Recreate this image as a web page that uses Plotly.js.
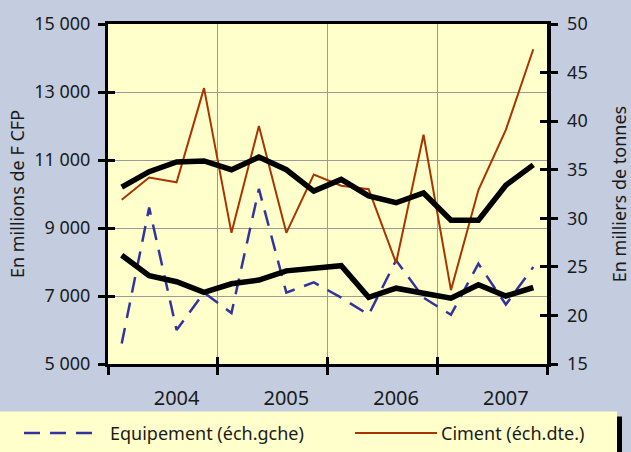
<!DOCTYPE html>
<html>
<head>
<meta charset="utf-8">
<script src="https://cdn.plot.ly/plotly-3.0.1.min.js"></script>
<style>html,body{margin:0;padding:0;background:#c3cddf;}#chart{width:631px;height:452px;}</style>
</head>
<body>
<div id="chart"></div>
<script>
const quarters = ['2004T1','2004T2','2004T3','2004T4','2005T1','2005T2','2005T3','2005T4',
                  '2006T1','2006T2','2006T3','2006T4','2007T1','2007T2','2007T3','2007T4'];
const equipement = [5600,9600,6000,7100,6500,10150,7100,7400,6950,6450,8050,6950,6450,7950,6750,7850];
const equipementTrend = [8200,7600,7420,7110,7360,7470,7740,7800,7890,6960,7230,7080,6935,7330,7000,7250];
const ciment = [31.9,34.2,33.7,43.4,28.5,39.5,28.5,34.5,33.35,33.0,25.4,38.6,22.6,32.9,39.1,47.4];
const cimentTrend = [33.2,34.8,35.8,35.9,35.0,36.3,35.0,32.8,34.0,32.3,31.6,32.6,29.8,29.8,33.4,35.5];
const yearLabels = ['2004','2005','2006','2007'];
const leftTickVals = [5000,7000,9000,11000,13000,15000];
const leftTickText = ['5 000','7 000','9 000','11 000','13 000','15 000'];
const rightTickVals = [15,20,25,30,35,40,45,50];
const rightTickText = ['15','20','25','30','35','40','45','50'];
const seriesNames = ['Equipement (éch.gche)','Ciment (éch.dte.)'];

const xIdx = quarters.map((q,i)=>i);
const yearPos = yearLabels.map((y,i)=>i*4+2);
const boundaries = [-0.5,3.5,7.5,11.5,15.5];

const FONT = 'Noto Sans, Open Sans, sans-serif';
const INK = '#1a1a1a';
const BLUE = '#33339f';
const RUST = '#a83500';
const YEL = '#ffffcc';

const L=108, R=84, T=24, B=88, W=631, H=452;
const pw = W-L-R, ph = H-T-B;
const px = v => (v-L)/pw;
const py = v => (H-B-v)/ph;

const traces = [
  {x:xIdx, y:equipement, name:seriesNames[0], type:'scatter', mode:'lines', xaxis:'x', yaxis:'y',
   line:{color:BLUE, width:2.5, dash:'16px,10px'}, showlegend:false},
  {x:xIdx, y:equipementTrend, type:'scatter', mode:'lines', xaxis:'x', yaxis:'y',
   line:{color:'#000', width:5.5}, showlegend:false},
  {x:xIdx, y:ciment, name:seriesNames[1], type:'scatter', mode:'lines', xaxis:'x', yaxis:'y2',
   line:{color:RUST, width:2}, showlegend:false},
  {x:xIdx, y:cimentTrend, type:'scatter', mode:'lines', xaxis:'x', yaxis:'y2',
   line:{color:'#000', width:5.5}, showlegend:false},
  // empty traces so the overlay axes (inside ticks, year labels) get drawn
  {x:[], y:[], type:'scatter', mode:'lines', xaxis:'x2', yaxis:'y', showlegend:false, hoverinfo:'skip'},
  {x:[], y:[], type:'scatter', mode:'lines', xaxis:'x3', yaxis:'y', showlegend:false, hoverinfo:'skip'},
  {x:[], y:[], type:'scatter', mode:'lines', xaxis:'x', yaxis:'y3', showlegend:false, hoverinfo:'skip'},
  {x:[], y:[], type:'scatter', mode:'lines', xaxis:'x', yaxis:'y4', showlegend:false, hoverinfo:'skip'}
];

const tickFont = {family:FONT, size:18, color:INK};

const layout = {
  width:W, height:H,
  margin:{l:L, r:R, t:T, b:B, pad:0},
  paper_bgcolor:'#c3cddf',
  plot_bgcolor:YEL,
  showlegend:false,
  font:{family:FONT, color:INK},
  xaxis:{type:'linear', range:[-0.5,15.5], tickmode:'array', tickvals:boundaries, ticks:'outside', ticklen:8, tickwidth:3,
         tickcolor:'#000', showticklabels:false, showgrid:true, gridcolor:'#9a9a9a', gridwidth:1,
         showline:true, linecolor:'#000', linewidth:3, mirror:true, zeroline:false, fixedrange:true},
  xaxis2:{type:'linear', overlaying:'x', anchor:'y', range:[-0.5,15.5], tickmode:'array', tickvals:boundaries, ticks:'inside',
          ticklen:7, tickwidth:3, tickcolor:'#000', showticklabels:false, showgrid:false, showline:false, zeroline:false},
  xaxis3:{type:'linear', overlaying:'x', anchor:'y', side:'bottom', range:[-0.5,15.5], tickmode:'array', tickvals:yearPos,
          ticktext:yearLabels, ticks:'', showgrid:false, showline:false, zeroline:false,
          tickfont:{family:FONT, size:20, color:INK}, ticklabelstandoff:20},
  yaxis:{type:'linear', range:[5000,15000], tickmode:'array', tickvals:leftTickVals, ticktext:leftTickText, ticks:'outside',
         ticklen:7, tickwidth:3, tickcolor:'#000', tickfont:tickFont, showgrid:true, gridcolor:'#9a9a9a', gridwidth:1,
         showline:true, linecolor:'#000', linewidth:3, zeroline:false, ticklabelstandoff:4,
         title:{text:'En millions de F CFP', font:{family:FONT, size:18, color:INK}, standoff:5}},
  yaxis2:{type:'linear', overlaying:'y', side:'right', anchor:'x', range:[15,50], tickmode:'array', tickvals:rightTickVals,
          ticktext:rightTickText, ticks:'outside', ticklen:7, tickwidth:3, tickcolor:'#000', tickfont:tickFont,
          showgrid:false, showline:true, linecolor:'#000', linewidth:3.5, zeroline:false, ticklabelstandoff:6,
          title:{text:'En milliers de tonnes', font:{family:FONT, size:18, color:INK}, standoff:36}},
  yaxis3:{type:'linear', overlaying:'y', side:'left', anchor:'x', range:[5000,15000], tickmode:'array', tickvals:leftTickVals,
          ticks:'inside', ticklen:7, tickwidth:3, tickcolor:'#000', showticklabels:false, showgrid:false,
          showline:false, zeroline:false},
  yaxis4:{type:'linear', overlaying:'y', side:'right', anchor:'x', range:[15,50], tickmode:'array', tickvals:rightTickVals,
          ticks:'inside', ticklen:7, tickwidth:3, tickcolor:'#000', showticklabels:false, showgrid:false,
          showline:false, zeroline:false},
  shapes:[
    {type:'rect', xref:'paper', yref:'paper', x0:px(0), x1:px(617), y0:py(452), y1:py(411.5),
     fillcolor:YEL, line:{width:0}, layer:'below'},
    {type:'rect', xref:'paper', yref:'paper', x0:px(617), x1:px(622), y0:py(452), y1:py(416.5),
     fillcolor:'#000', line:{width:0}, layer:'below'},
    {type:'line', xref:'paper', yref:'paper', x0:px(24), x1:px(98), y0:py(433), y1:py(433),
     line:{color:BLUE, width:2.5, dash:'16px,10px'}},
    {type:'line', xref:'paper', yref:'paper', x0:px(355), x1:px(437), y0:py(433), y1:py(433),
     line:{color:RUST, width:2}}
  ],
  annotations:[
    {xref:'paper', yref:'paper', x:px(108), y:py(433), xanchor:'left', yanchor:'middle', showarrow:false,
     text:seriesNames[0], font:{family:FONT, size:18, color:INK}},
    {xref:'paper', yref:'paper', x:px(439), y:py(433), xanchor:'left', yanchor:'middle', showarrow:false,
     text:seriesNames[1], font:{family:FONT, size:18, color:INK}}
  ]
};

Plotly.newPlot('chart', traces, layout, {displayModeBar:false, staticPlot:true});
</script>
</body>
</html>
